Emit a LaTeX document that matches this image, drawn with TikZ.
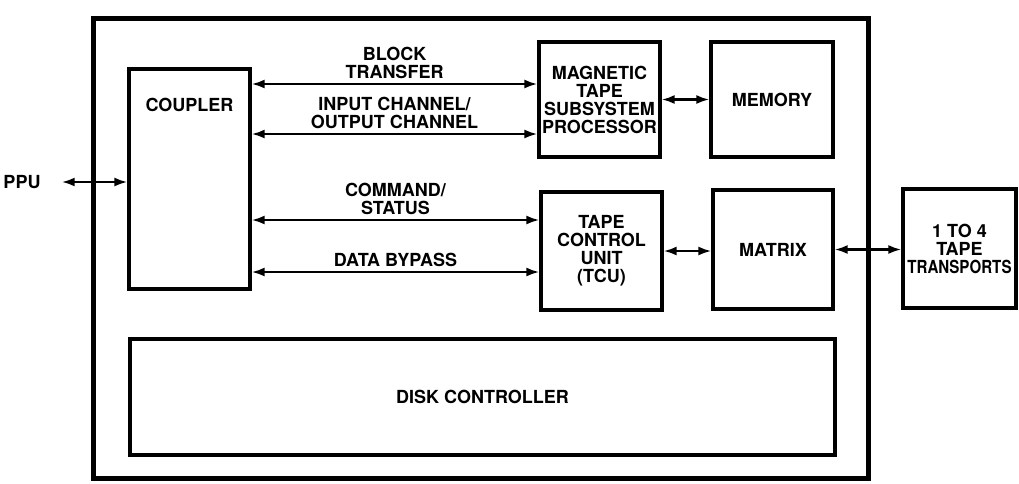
\documentclass[tikz,border=0pt]{standalone}
\usepackage{fontspec}
\usepackage{graphicx}
\setmainfont{TeX Gyre Heros}
\usetikzlibrary{arrows.meta}
\begin{document}
\begin{tikzpicture}[x=1pt,y=-1pt]
\tikzset{
    etiqueta/.style={text centered, align=center, inner sep=1pt, font=\bfseries\fontsize{18}{18}\selectfont},
    caja/.style={draw, line width=3.2pt, etiqueta},
    flecha/.style={line width=2.4pt, {Latex[length=13pt,width=9pt]}-{Latex[length=13pt,width=9pt]}}
}
\useasboundingbox (0,0) rectangle (1019,483);
\draw[line width=5pt] (93,18) rectangle (868,478);
\node[caja, minimum width=121pt, minimum height=220pt] (coupler) at (189.5,179) {};
\node[etiqueta] at (189.5,105) {COUPLER};
\node[caja, minimum width=121pt, minimum height=115pt] (mtsp) at (599.5,99.5) {MAGNETIC\\TAPE\\SUBSYSTEM\\PROCESSOR};
\node[caja, minimum width=122pt, minimum height=115pt] (memory) at (772,99.5) {MEMORY};
\node[caja, minimum width=121pt, minimum height=118pt] (tcu) at (601.5,251) {TAPE\\CONTROL\\UNIT\\(TCU)};
\node[caja, minimum width=120pt, minimum height=119pt] (matrix) at (773,249.5) {MATRIX};
\node[caja, minimum width=113pt, minimum height=119pt] (transports) at (959.5,248.5) {1 TO 4\\TAPE\\\scalebox{0.84}[1]{TRANSPORTS}};
\node[caja, minimum width=705pt, minimum height=116pt] (disk) at (482.5,397) {DISK CONTROLLER};
\node[etiqueta] (ppu) at (22,182) {PPU};
\draw[flecha] ([xshift=20pt]ppu.east) -- (ppu.east -| coupler.west);
\draw[flecha] ([yshift=15.5pt]mtsp.west -| coupler.east) -- ([yshift=15.5pt]mtsp.west)
    node[etiqueta, midway, above=3pt] {BLOCK\\TRANSFER};
\draw[flecha] ([yshift=-34.5pt]mtsp.west -| coupler.east) -- ([yshift=-34.5pt]mtsp.west)
    node[etiqueta, midway, above=3pt] {INPUT CHANNEL/\\OUTPUT CHANNEL};
\draw[flecha] ([yshift=31pt]tcu.west -| coupler.east) -- ([yshift=31pt]tcu.west)
    node[etiqueta, midway, above=3pt] {COMMAND/\\STATUS};
\draw[flecha] ([yshift=-21pt]tcu.west -| coupler.east) -- ([yshift=-21pt]tcu.west)
    node[etiqueta, midway, above=3pt] {DATA BYPASS};
\draw[flecha] (mtsp.east) -- (memory.west);
\draw[flecha] (tcu.east) -- (tcu.east -| matrix.west);
\draw[flecha] (matrix.east) -- (matrix.east -| transports.west);
\end{tikzpicture}
\end{document}
